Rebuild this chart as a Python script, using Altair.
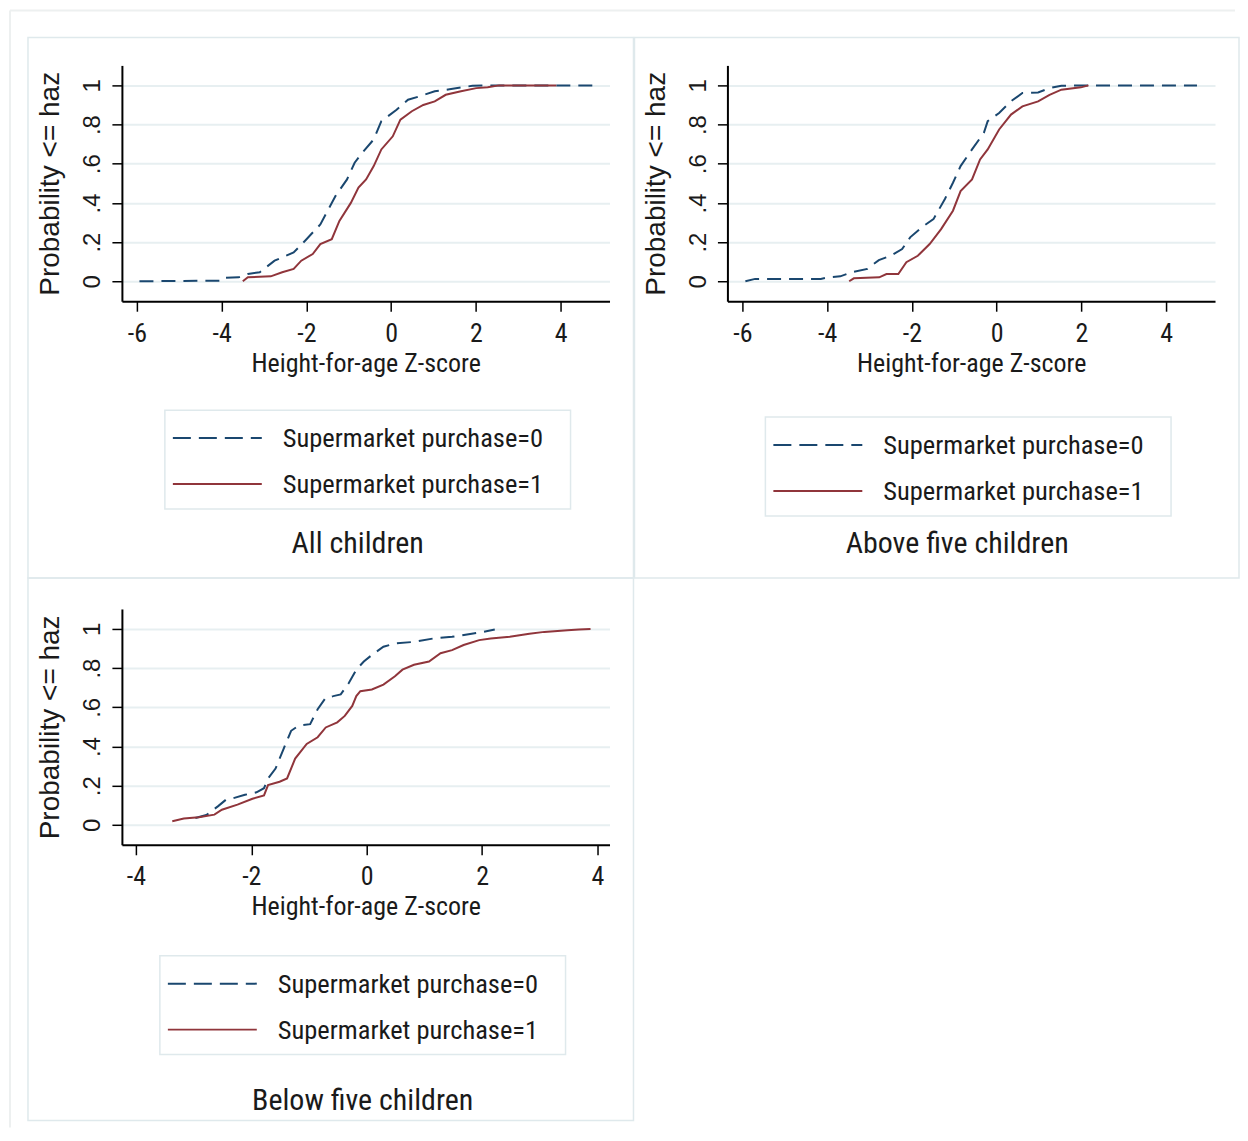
import altair as alt
import pandas as pd

# ---------------- data ----------------
# Panel 1: All children
all_x0 = [-5.94, -4.05, -4.0, -3.6, -3.38, -3.1, -2.75, -2.3, -2.03, -1.67, -1.31, -1.04, -0.86,
          -0.68, -0.41, -0.23, 0.13, 0.40, 0.67, 1.03, 1.38, 1.92, 2.28, 4.8]
all_y0 = [0.0, 0.003, 0.017, 0.02, 0.037, 0.046, 0.105, 0.147, 0.207, 0.29, 0.436, 0.52, 0.605,
          0.656, 0.724, 0.817, 0.876, 0.927, 0.944, 0.97, 0.98, 0.998, 1.0, 1.0]
all_x1 = [-3.5, -3.38, -2.84, -2.57, -2.3, -2.12, -1.85, -1.67, -1.40, -1.22, -0.95, -0.77, -0.59,
          -0.41, -0.23, 0.04, 0.22, 0.49, 0.76, 1.03, 1.29, 1.65, 2.01, 2.28, 2.55, 3.9]
all_y1 = [0.0, 0.02, 0.025, 0.046, 0.063, 0.105, 0.139, 0.19, 0.215, 0.308, 0.40, 0.478, 0.52,
          0.588, 0.673, 0.74, 0.825, 0.868, 0.9, 0.918, 0.952, 0.97, 0.986, 0.99, 1.0, 1.0]

# Panel 2: Above five children
above_x0 = [-5.93, -5.7, -4.15, -3.97, -3.69, -3.42, -3.05, -2.78, -2.5, -2.23, -2.04, -1.77, -1.49,
            -1.22, -1.03, -0.85, -0.58, -0.30, -0.21, 0.06, 0.34, 0.61, 0.98, 1.25, 1.53, 2.26, 4.73]
above_y0 = [0.0, 0.012, 0.012, 0.02, 0.025, 0.046, 0.063, 0.108, 0.13, 0.164, 0.224, 0.275, 0.317,
            0.42, 0.503, 0.588, 0.673, 0.758, 0.817, 0.859, 0.919, 0.961, 0.964, 0.986, 0.998, 1.0, 1.0]
above_x1 = [-3.48, -3.37, -2.77, -2.6, -2.32, -2.13, -1.86, -1.58, -1.31, -1.03, -0.85, -0.58,
            -0.39, -0.21, 0.06, 0.34, 0.61, 0.98, 1.25, 1.53, 1.99, 2.17]
above_y1 = [0.0, 0.015, 0.02, 0.037, 0.037, 0.097, 0.13, 0.19, 0.266, 0.36, 0.46, 0.52,
            0.622, 0.673, 0.775, 0.851, 0.893, 0.918, 0.952, 0.978, 0.99, 1.0]

# Panel 3: Below five children
below_x0 = [-2.97, -2.78, -2.58, -2.44, -2.31, -2.11, -1.91, -1.78, -1.71, -1.58, -1.44, -1.31,
            -1.18, -0.98, -0.85, -0.71, -0.58, -0.45, -0.31, -0.18, -0.05, 0.09, 0.29, 0.49,
            0.82, 1.15, 1.48, 1.82, 2.02, 2.22]
below_y0 = [0.035, 0.05, 0.094, 0.128, 0.136, 0.153, 0.166, 0.187, 0.237, 0.287, 0.388, 0.48,
            0.506, 0.514, 0.59, 0.649, 0.657, 0.666, 0.724, 0.792, 0.834, 0.867, 0.909, 0.926,
            0.934, 0.951, 0.96, 0.976, 0.985, 0.997]
below_x1 = [-3.37, -3.17, -2.91, -2.64, -2.51, -2.24, -1.98, -1.78, -1.71, -1.51, -1.38, -1.24,
            -1.04, -0.85, -0.71, -0.51, -0.38, -0.25, -0.18, -0.11, 0.09, 0.29, 0.49, 0.62,
            0.82, 1.08, 1.28, 1.48, 1.68, 1.95, 2.15, 2.48, 2.82, 3.08, 3.48, 3.68, 3.88]
below_y1 = [0.018, 0.032, 0.039, 0.052, 0.077, 0.103, 0.133, 0.15, 0.203, 0.22, 0.237, 0.338,
            0.413, 0.447, 0.497, 0.523, 0.556, 0.607, 0.657, 0.682, 0.691, 0.716, 0.758, 0.792,
            0.817, 0.834, 0.876, 0.892, 0.918, 0.943, 0.951, 0.96, 0.976, 0.985, 0.993, 0.997, 1.0]

series_labels = ["Supermarket purchase=0", "Supermarket purchase=1"]
panel_titles = ["All children", "Above five children", "Below five children"]
y_ticks = [0, 0.2, 0.4, 0.6, 0.8, 1]
x_ticks_wide = [-6, -4, -2, 0, 2, 4]
x_ticks_narrow = [-4, -2, 0, 2, 4]

# ---------------- styling ----------------
BLUE = "#1a476f"
RED = "#90353b"
FRAME = "#dfe9ec"
OUTER = "#edf0f0"
GRID = "#e7eff1"
TXT = "#1a1a1a"
NARROW = "Roboto Condensed, Liberation Sans, sans-serif"
REG = "Liberation Sans, Arial, sans-serif"
W, H = 488, 236
one = alt.Data(values=[{}])


def panel(x0, y0, x1, y1, title, xdom, xticks, fx, fy, leg_dx, leg_dy, title_dx, title_dy,
          outer=False):
    d0 = pd.DataFrame({"x": x0, "y": y0, "i": range(len(x0))})
    d1 = pd.DataFrame({"x": x1, "y": y1, "i": range(len(x1))})
    xs = alt.Scale(domain=xdom, nice=False, zero=False)
    ys = alt.Scale(domain=[-0.102, 1.102], nice=False, zero=False)
    xax = alt.Axis(values=xticks, title="Height-for-age Z-score", grid=False,
                   labelExpr="'' + datum.value")
    yax = alt.Axis(values=y_ticks, title="Probability <= haz", grid=True,
                   labelExpr="replace(format(datum.value, '~g'), '0.', '.')")

    layers = []
    if outer:
        layers.append(alt.Chart(one).mark_rule(color=OUTER, strokeWidth=2).encode(
            x=alt.value(-112), x2=alt.value(1114), y=alt.value(-55)))
        layers.append(alt.Chart(one).mark_rule(color=OUTER, strokeWidth=2).encode(
            x=alt.value(-112), y=alt.value(-55), y2=alt.value(1063)))

    layers.append(alt.Chart(one).mark_rect(filled=False, stroke=FRAME, strokeWidth=1.5).encode(
        x=alt.value(fx[0]), x2=alt.value(fx[1]), y=alt.value(fy[0]), y2=alt.value(fy[1])))

    layers.append(alt.Chart(d0).mark_line(color=BLUE, strokeWidth=2, strokeDash=[14, 8]).encode(
        x=alt.X("x:Q", scale=xs, axis=xax), y=alt.Y("y:Q", scale=ys, axis=yax), order="i:Q"))
    layers.append(alt.Chart(d1).mark_line(color=RED, strokeWidth=2).encode(
        x=alt.X("x:Q", scale=xs), y=alt.Y("y:Q", scale=ys), order="i:Q"))

    layers.append(alt.Chart(one).mark_rect(filled=False, stroke=FRAME, strokeWidth=1.5).encode(
        x=alt.value(leg_dx), x2=alt.value(leg_dx + 406), y=alt.value(leg_dy), y2=alt.value(leg_dy + 99)))
    layers.append(alt.Chart(one).mark_rule(color=BLUE, strokeWidth=2, strokeDash=[18, 8]).encode(
        x=alt.value(leg_dx + 8), x2=alt.value(leg_dx + 97), y=alt.value(leg_dy + 28)))
    layers.append(alt.Chart(one).mark_rule(color=RED, strokeWidth=2).encode(
        x=alt.value(leg_dx + 8), x2=alt.value(leg_dx + 97), y=alt.value(leg_dy + 74)))
    for k, lab in enumerate(series_labels):
        layers.append(alt.Chart(one).mark_text(text=lab, font=NARROW, fontSize=26.5, color=TXT,
                                               align="left", baseline="middle").encode(
            x=alt.value(leg_dx + 118), y=alt.value(leg_dy + 29 + 46 * k)))
    layers.append(alt.Chart(one).mark_text(text=title, font=NARROW, fontSize=30, color=TXT,
                                           align="center", baseline="middle").encode(
        x=alt.value(title_dx), y=alt.value(title_dy)))

    return alt.layer(*layers).properties(width=W, height=H)


p1 = panel(all_x0, all_y0, all_x1, all_y1, panel_titles[0], [-6.354, 5.156], x_ticks_wide,
           (-94, 512), (-28, 513), 43, 345, 236, 479, outer=True)
p2 = panel(above_x0, above_y0, above_x1, above_y1, panel_titles[1], [-6.354, 5.156], x_ticks_wide,
           (-93, 512), (-28, 513), 38, 352, 230, 479)
p3 = panel(below_x0, below_y0, below_x1, below_y1, panel_titles[2], [-4.243, 4.209], x_ticks_narrow,
           (-94, 512), (-31, 512), 38, 347, 241, 492)

row = alt.hconcat(p1, p2, spacing=118, bounds="flush")
chart = alt.vconcat(row, p3, spacing=544, bounds="flush").properties(
    padding={"left": 1, "top": 1, "right": 0, "bottom": 0},
    background="white",
).configure_view(stroke=None).configure_axis(
    domainColor="black", domainWidth=2, tickColor="black", tickWidth=1.5, tickSize=10,
    labelColor=TXT, titleColor=TXT, gridColor=GRID, gridWidth=2,
).configure_axisX(
    labelFont=NARROW, labelFontSize=26, labelPadding=9, titleFont=NARROW, titleFontSize=26,
    titleFontWeight="normal", titlePadding=4,
).configure_axisY(
    labelFont=REG, labelFontSize=24, labelAngle=-90, labelPadding=7, labelAlign="center",
    labelBaseline="bottom", titleFont=REG, titleFontSize=28, titleFontWeight="normal",
    titlePadding=16,
)

chart.save("out.html", embed_options={"renderer": "svg", "actions": False})
